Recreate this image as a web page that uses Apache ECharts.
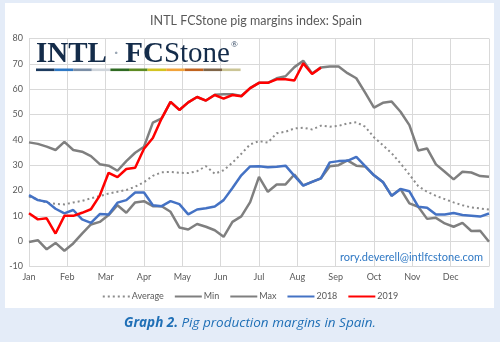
<!DOCTYPE html>
<html>
<head>
<meta charset="utf-8">
<script src="https://cdn.jsdelivr.net/npm/echarts@6/dist/echarts.min.js"></script>
<style>
  html, body { margin: 0; padding: 0; background: #e4ecf8; }
  #panel { position: absolute; left: 5px; top: 3px; width: 489px; height: 305px; background: #ffffff; }
  #chart { position: absolute; left: 0; top: 0; width: 500px; height: 342px; }
</style>
</head>
<body>
<div id="panel"></div>
<div id="chart"></div>
<script>
// Weekly pig margin index for Spain, 53 weekly readings across the year
const months = ['Jan', 'Feb', 'Mar', 'Apr', 'May', 'Jun', 'Jul', 'Aug', 'Sep', 'Oct', 'Nov', 'Dec'];
const yTicks = [-10, 0, 10, 20, 30, 40, 50, 60, 70, 80];

const average = [17.5, 16.5, 15.2, 14.7, 14.5, 15.3, 15.9, 16.9, 17.8, 18.8, 19.5, 20.2, 21.5, 23.3,
  25.8, 27.2, 27.3, 27.0, 26.9, 27.6, 29.6, 26.6, 28.0, 31.0, 34.5, 38.2, 39.5, 38.9, 42.6, 43.2,
  44.5, 44.8, 44.1, 45.6, 45.2, 45.5, 46.5, 46.9, 45.2, 41.0, 37.9, 34.7, 30.7, 26.3, 21.7, 19.5,
  17.9, 16.6, 15.3, 14.2, 13.3, 12.9, 12.5];

const minV = [-0.3, 0.4, -3.2, -0.7, -3.8, -0.9, 3.0, 6.6, 7.6, 10.3, 14.2, 11.2, 15.3, 15.8,
  13.8, 13.8, 11.6, 5.4, 4.6, 6.8, 5.7, 4.3, 1.7, 7.6, 9.8, 15.4, 25.4, 19.5, 22.4, 22.4,
  26.3, 22.0, 23.4, 24.8, 29.6, 30.0, 31.9, 29.8, 29.5, 26.0, 23.4, 17.9, 20.6, 14.9, 13.6, 8.8,
  9.2, 7.0, 5.7, 7.2, 4.0, 4.1, -0.2];

const maxV = [39.0, 38.4, 37.3, 36.0, 39.2, 36.0, 35.3, 33.6, 30.4, 29.8, 27.8, 31.6, 34.9, 37.3,
  46.8, 48.5, 55.0, 51.8, 54.8, 56.9, 55.5, 57.8, 58.0, 58.0, 57.3, 60.4, 62.5, 62.5, 64.3, 65.1,
  68.7, 71.2, 66.2, 68.6, 68.9, 68.9, 66.3, 64.3, 58.6, 52.7, 54.6, 55.1, 51.1, 45.8, 35.8, 36.6,
  30.3, 27.4, 24.4, 27.4, 27.1, 25.7, 25.4];

const y2018 = [18.2, 16.2, 15.6, 12.8, 11.0, 12.3, 8.6, 7.2, 10.7, 10.5, 15.2, 16.2, 19.2, 19.2,
  14.2, 13.8, 15.8, 14.6, 10.6, 12.5, 13.0, 13.7, 16.2, 21.0, 26.0, 29.5, 29.6, 29.2, 29.4, 29.8,
  25.8, 21.9, 23.4, 24.8, 31.1, 31.6, 31.7, 33.3, 29.6, 26.0, 23.4, 17.9, 20.6, 19.7, 13.6, 13.2,
  10.5, 10.5, 11.1, 10.3, 10.0, 9.7, 10.9];

const y2019 = [11.0, 8.6, 9.0, 3.0, 10.0, 10.0, 11.2, 12.6, 18.0, 27.0, 25.3, 28.5, 29.0, 36.5,
  40.7, 48.5, 55.0, 51.8, 54.8, 56.9, 55.5, 57.7, 56.3, 57.7, 57.2, 60.4, 62.5, 62.5, 63.9, 63.9,
  63.4, 70.2, 66.0, 68.5];

const WEEKS = 52; // intervals spanning the twelve months
const toPoints = arr => arr.map((v, i) => [i * 12 / WEEKS, v]);

const logoColors = ['#1c3a5e', '#2f78c4', '#7b8ea6', '#cfd5db', '#2f6a22', '#5d8b22', '#d3c422',
  '#f2a33a', '#c0621e', '#7f6548', '#cbc596'];

const chart = echarts.init(document.getElementById('chart'));

const grey = '#7f7f7f';
const font = 'Lato, "Open Sans", sans-serif';
const serif = '"Liberation Serif", "DejaVu Serif", serif';

const logoBar = logoColors.map((c, k) => ({
  type: 'rect',
  shape: { x: 36 + k * 18.6, y: 68.5, width: 18.6, height: 2.6 },
  style: { fill: c },
  z: 10
}));

chart.setOption({
  animation: false,
  textStyle: { fontFamily: font },
  title: {
    text: 'INTL FCStone pig margins index: Spain',
    left: 251, top: 9, textAlign: 'center',
    textStyle: { fontSize: 12.5, fontWeight: 'normal', color: '#595959', fontFamily: font }
  },
  grid: { left: 29, right: 11, top: 38.5, bottom: 75.5 },
  legend: {
    bottom: 36, left: 'center',
    itemWidth: 27, itemHeight: 8, itemGap: 10,
    itemStyle: { opacity: 0 },
    textStyle: { fontSize: 9, color: '#595959', padding: [0, 0, 0, -3] },
    data: ['Average', 'Min', 'Max', '2018', '2019']
  },
  xAxis: {
    type: 'value', min: 0, max: 12, interval: 1,
    axisLine: { show: false }, axisTick: { show: false },
    splitLine: { show: true, lineStyle: { color: '#d9d9d9', width: 1 } },
    axisLabel: {
      fontSize: 9, color: '#595959', margin: 6,
      formatter: v => months[Math.round(v)] || ''
    }
  },
  yAxis: {
    type: 'value', min: yTicks[0], max: yTicks[yTicks.length - 1], interval: 10,
    axisLine: { show: false }, axisTick: { show: false },
    splitLine: { lineStyle: { color: '#d9d9d9', width: 1 } },
    axisLabel: { fontSize: 9, color: '#595959', margin: 6 }
  },
  graphic: [
    {
      type: 'text', left: 36, top: 40, z: 10,
      style: {
        text: '{b|INTL}{d| · }{b|FC}{r|Stone}{s|®}',
        rich: {
          b: { fontFamily: serif, fontWeight: 'bold', fontSize: 29, fill: '#142c4a', textStroke: '#142c4a', lineWidth: 0.8 },
          r: { fontFamily: serif, fontWeight: 'normal', fontSize: 29, fill: '#142c4a', textStroke: '#142c4a', lineWidth: 0.6 },
          d: { fontFamily: serif, fontSize: 22, fill: '#9aa6b4' },
          s: { fontFamily: serif, fontSize: 9, fill: '#142c4a', verticalAlign: 'top', padding: [0, 0, 14, 1] }
        }
      }
    },
    ...logoBar,
    {
      type: 'text', right: 17, top: 252, z: 10,
      style: { text: 'rory.deverell@intlfcstone.com', fill: '#2f78c4', fontSize: 11, fontFamily: font }
    },
    {
      type: 'text', left: 'center', top: 316, z: 10,
      style: {
        text: '{b|Graph 2.} {i|Pig production margins in Spain.}',
        rich: {
          b: { fontFamily: '"Open Sans", sans-serif', fontStyle: 'italic', fontWeight: 'bold', fontSize: 13.5, fill: '#1f6fb6' },
          i: { fontFamily: '"Open Sans", sans-serif', fontStyle: 'italic', fontSize: 13.5, fill: '#1f6fb6' }
        }
      }
    }
  ],
  series: [
    {
      name: 'Average', type: 'line', data: toPoints(average), showSymbol: false, symbol: 'none',
      lineStyle: { color: '#8c8c8c', width: 2, type: [2, 3] }, itemStyle: { color: '#8c8c8c' }, z: 2
    },
    {
      name: 'Min', type: 'line', data: toPoints(minV), showSymbol: false, symbol: 'none',
      lineStyle: { color: grey, width: 2.5 }, itemStyle: { color: grey }, z: 3
    },
    {
      name: 'Max', type: 'line', data: toPoints(maxV), showSymbol: false, symbol: 'none',
      lineStyle: { color: grey, width: 2.5 }, itemStyle: { color: grey }, z: 3
    },
    {
      name: '2018', type: 'line', data: toPoints(y2018), showSymbol: false, symbol: 'none',
      lineStyle: { color: '#4472c4', width: 2.5 }, itemStyle: { color: '#4472c4' }, z: 4
    },
    {
      name: '2019', type: 'line', data: toPoints(y2019), showSymbol: false, symbol: 'none',
      lineStyle: { color: '#ff0000', width: 2.5 }, itemStyle: { color: '#ff0000' }, z: 5
    }
  ]
});
</script>
</body>
</html>
